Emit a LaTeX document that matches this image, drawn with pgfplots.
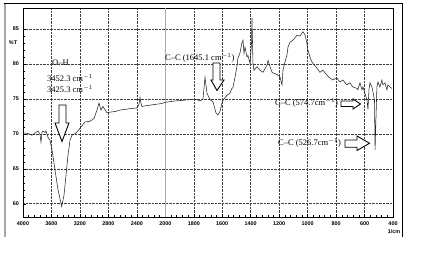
\documentclass[border=0pt]{standalone}
\usepackage{pgfplots}
\pgfplotsset{compat=1.18}
\usepackage{pgfplotstable}
\usepackage{fontspec}
\setmainfont{Liberation Serif}
\newfontfamily\arialf{Liberation Sans}
\pgfplotstableread{
wn T
4000 70.1
3972 70.1
3916 70.0
3874 69.8
3831 70.1
3789 70.4
3761 69.9
3747 68.8
3733 70.2
3719 70.4
3691 70.2
3677 70.4
3649 69.5
3621 69.1
3592 67.7
3550 64.8
3508 62.0
3456 59.6
3424 61.2
3396 64.0
3368 66.9
3339 69.1
3311 69.8
3255 70.1
3199 70.8
3129 71.7
3058 71.8
3002 72.2
2960 73.4
2932 74.4
2904 73.4
2876 73.9
2819 73.0
2777 73.1
2700 73.2
2637 73.4
2560 73.5
2496 73.6
2398 73.7
2370 74.2
2356 75.2
2342 74.4
2328 73.9
2285 74.0
2215 74.1
2145 74.2
2074 74.3
2032 74.4
2000 74.5
1967 74.6
1932 74.7
1875 74.8
1826 74.9
1777 74.9
1756 74.7
1735 75.0
1721 78.1
1707 75.8
1686 74.9
1665 74.6
1644 73.0
1630 72.7
1616 73.2
1602 74.4
1595 74.8
1567 75.5
1546 75.8
1532 76.5
1525 76.6
1511 78.0
1497 79.6
1490 80.8
1476 81.5
1462 83.0
1454 83.4
1447 81.5
1440 82.4
1426 81.0
1419 81.2
1405 80.1
1394 83.0
1391 86.6
1384 80.1
1377 79.1
1356 79.6
1335 79.1
1314 78.8
1286 79.8
1278 80.5
1264 79.6
1250 78.8
1243 78.7
1215 78.5
1194 78.1
1180 77.0
1173 79.1
1159 80.3
1145 81.3
1138 82.4
1124 83.1
1103 83.4
1075 84.1
1054 84.0
1033 84.6
1019 84.2
1005 83.0
998 82.0
984 81.0
970 80.3
963 80.1
935 79.4
914 78.8
893 79.1
865 78.4
844 78.0
823 77.7
795 78.0
773 77.4
752 77.7
724 77.0
703 77.3
682 76.7
654 76.5
647 76.3
632 77.3
618 76.3
611 76.7
597 75.8
583 74.8
576 73.5
569 76.3
562 77.3
548 76.7
541 76.0
530 74.8
526 67.7
520 72.0
513 76.7
506 77.4
492 76.7
478 77.7
471 77.0
457 77.3
443 76.3
436 77.0
422 76.7
408 76.5
}\spec
\begin{document}
\begin{tikzpicture}[x=1pt,y=1pt]
\path[use as bounding box] (0,0) rectangle (431,256);
% outer scan frame
\draw[gray!70, line width=2pt] (5,19) -- (5,252);
\draw[black, line width=1pt] (4,252) -- (402,252) -- (402,19);
\begin{axis}[
  at={(23pt,39pt)}, anchor=south west,
  width=370pt, height=209pt, scale only axis,
  xmin=0, xmax=13, ymin=58.1, ymax=88,
  xtick={0,...,13},
  xticklabels={4000,3600,3200,2800,2400,2000,1800,1600,1400,1200,1000,800,600,400},
  ytick={60,65,70,75,80,85},
  minor x tick num=4, minor y tick num=4,
  tick pos=left,
  major tick length=3pt, minor tick length=2pt,
  grid=major,
  major grid style={densely dotted, black!75, line width=0.5pt},
  axis line style={black, line width=0.6pt},
  tick style={black, line width=0.4pt},
  /pgf/number format/assume math mode=true,
  ticklabel style={font=\arialf\bfseries\fontsize{5.4}{6}\selectfont},
  xticklabel style={yshift=-1.5pt},
  yticklabel style={xshift=-0.5pt},
]
\addplot[gray!65, line width=1.1pt] coordinates {(5,58.1) (5,88)};
\addplot[black!85, line width=0.55pt] table[x expr={\thisrow{wn}>=2000 ? (4000-\thisrow{wn})/400 : 5+(2000-\thisrow{wn})/200}, y=T] {\spec};
\end{axis}
% annotations
\node[font=\arialf\bfseries\fontsize{5.4}{6}\selectfont] at (13,213) {\%T};
\node[font=\arialf\bfseries\fontsize{5.4}{6}\selectfont] at (394,24) {1/cm};
\begin{scope}[font=\fontsize{8.5}{9}\selectfont]
\node at (60.5,193) {O--H};
\node[anchor=west, inner sep=0] at (47,178) {3452.3 cm$^{-1}$};
\node[anchor=west, inner sep=0] at (47,166.5) {3425.3 cm$^{-1}$};
\node[anchor=west, inner sep=0] at (165,198) {C--C (1645.1 cm$^{-1}$)};
\node[anchor=west, inner sep=0] at (275,153) {C--C (574.7cm$^{-1}$)};
\node[anchor=west, inner sep=0] at (278,113) {C--C (526.7cm$^{-1}$)};
\end{scope}
% block arrows
\draw[line width=0.9pt, fill=white] (59,151) -- (66,151) -- (66,133) -- (69,133) -- (62,114.5) -- (55,133) -- (59,133) -- cycle;
\draw[line width=0.9pt, fill=white] (213,193) -- (220,193) -- (220,176) -- (224,176) -- (217,165.5) -- (211,176) -- (213,176) -- cycle;
\draw[line width=0.9pt, fill=white] (341,155) -- (353,155) -- (353,157) -- (360.5,152) -- (353,147) -- (353,149.5) -- (341,149.5) -- cycle;
\draw[line width=0.9pt, fill=white] (345,116) -- (357,116) -- (357,120) -- (369.5,112.7) -- (357,105.5) -- (357,108.7) -- (345,108.7) -- cycle;
\end{tikzpicture}
\end{document}
